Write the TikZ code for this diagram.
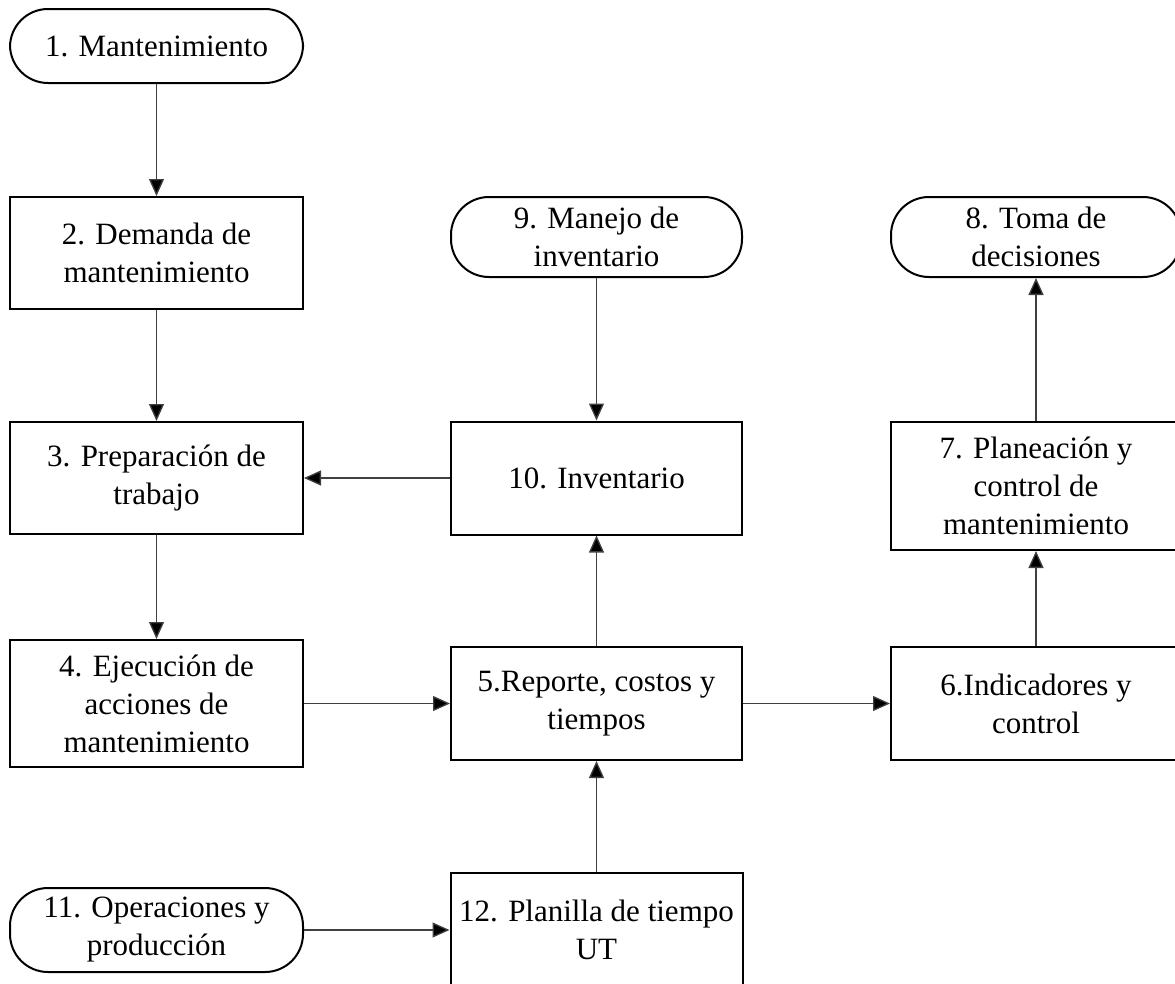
\documentclass[tikz,border=0pt]{standalone}
\usepackage{fontspec}
\setmainfont{Liberation Serif}
\usetikzlibrary{arrows.meta}
\begin{document}
\begin{tikzpicture}[x=1pt,y=-1pt,
  base/.style={draw=black,line width=2pt,align=center,inner sep=0pt,
    font=\fontsize{31}{38}\selectfont},
  procbox/.style={base,rectangle},
  termbox/.style={base,rectangle,rounded corners=38pt},
  flow/.style={line width=1.3pt,draw=black!75,
    -{Triangle[length=17pt,width=15pt,fill=black]}}]
\useasboundingbox (0,0) rectangle (1175,983);

% left column
\node[termbox,minimum width=293pt,minimum height=74pt] (n1) at (156.5,46) {1. Mantenimiento};
\node[procbox,minimum width=293pt,minimum height=112pt] (n2) at (156.5,253) {2. Demanda de\\mantenimiento};
\node[procbox,minimum width=293pt,minimum height=112pt] (n3) at (156.5,478) {3. Preparación de\\trabajo};
\node[procbox,minimum width=293pt,minimum height=127pt] (n4) at (156.5,703.5) {4. Ejecución de\\acciones de\\mantenimiento};
\node[termbox,minimum width=293pt,minimum height=84pt] (n11) at (156.5,930) {11. Operaciones y\\producción};

% middle column
\node[termbox,minimum width=291pt,minimum height=80pt] (n9) at (596.5,237) {9. Manejo de\\inventario};
\node[procbox,minimum width=291pt,minimum height=113pt] (n10) at (596.5,478) {10. Inventario};
\node[procbox,minimum width=291pt,minimum height=113pt] (n5) at (596.5,703.5) {5.Reporte, costos y\\tiempos};
\node[procbox,minimum width=292pt,minimum height=114pt] (n12) at (596.5,930) {12. Planilla de tiempo\\UT};

% right column
\node[termbox,minimum width=290pt,minimum height=80pt] (n8) at (1036,237) {8. Toma de\\decisiones};
\node[procbox,minimum width=290pt,minimum height=128pt] (n7) at (1036,486) {7. Planeación y\\control de\\mantenimiento};
\node[procbox,minimum width=290pt,minimum height=113pt] (n6) at (1036,703.5) {6.Indicadores y\\control};

% connectors
\draw[flow] (n1) -- (n2);
\draw[flow] (n2) -- (n3);
\draw[flow] (n3) -- (n4);
\draw[flow] (n9) -- (n10);
\draw[flow] (n10) -- (n3);
\draw[flow] (n4) -- (n5);
\draw[flow] (n5) -- (n10);
\draw[flow] (n5) -- (n6);
\draw[flow] (n6) -- (n7);
\draw[flow] (n7) -- (n8);
\draw[flow] (n12) -- (n5);
\draw[flow] (n11.east) -- (n11.east -| n12.west);
\end{tikzpicture}
\end{document}
